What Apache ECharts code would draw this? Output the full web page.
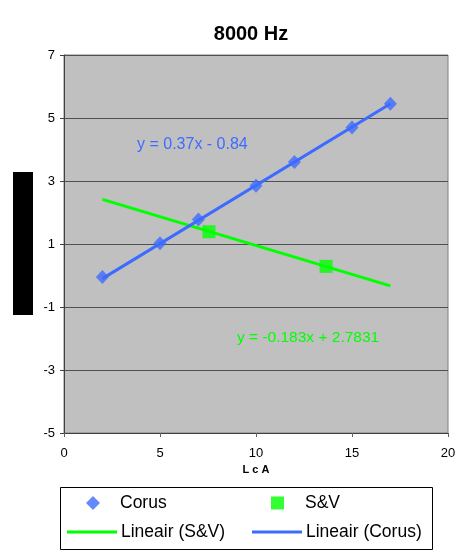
<!DOCTYPE html>
<html>
<head>
<meta charset="utf-8">
<script src="https://cdn.jsdelivr.net/npm/echarts@6/dist/echarts.min.js"></script>
<style>
  html, body { margin: 0; padding: 0; background: #fff; }
  #chart { width: 462px; height: 552px; }
</style>
</head>
<body>
<div id="chart"></div>
<script>
// Measurements at 8000 Hz
const corusX = [2, 5, 7, 10, 12, 15, 17];
const corusY = [-0.05, 1.02, 1.78, 2.85, 3.6, 4.7, 5.45];
const svX = [7.55, 13.65];
const svY = [1.39, 0.29];

// Linear trend coefficients [slope, intercept] and the x-range they span
const corusTrend = [0.37, -0.84];
const svTrend = [-0.183, 2.7831];
const trendRange = [2, 17];

const xTicks = [0, 5, 10, 15, 20];
const yTicks = [-5, -3, -1, 1, 3, 5, 7];

const BLUE = '#3D6BFF';
const GREEN = '#00FF00';
const FONT = 'Liberation Sans, Arial, sans-serif';

const zip = (xs, ys) => xs.map((x, i) => [x, ys[i]]);
const trendLine = (c) => trendRange.map(x => [x, c[0] * x + c[1]]);

const chart = echarts.init(document.getElementById('chart'), null, { renderer: 'canvas' });

const legendBase = {
  orient: 'horizontal',
  textStyle: { fontFamily: FONT, fontSize: 17.5, color: '#000' },
  selectedMode: false
};
const legendText = (pad) => Object.assign({}, legendBase.textStyle, { padding: [0, 0, 0, pad] });

chart.setOption({
  backgroundColor: '#fff',
  animation: false,
  title: {
    text: '8000 Hz',
    left: 246, top: 19, textAlign: 'center',
    textStyle: { fontFamily: FONT, fontSize: 20, fontWeight: 'bold', color: '#000' }
  },
  grid: {
    left: 64, right: 14, top: 55, bottom: 119,
    show: true, backgroundColor: '#C0C0C0', borderColor: '#808080', borderWidth: 1
  },
  xAxis: {
    type: 'value', min: 0, max: 20, interval: 5,
    name: 'L c A', nameLocation: 'middle', nameGap: 29,
    nameTextStyle: { fontFamily: FONT, fontSize: 11, fontWeight: 'bold', color: '#000' },
    axisLine: { show: true, onZero: false, lineStyle: { color: '#404040' } },
    axisTick: { show: true, inside: false, length: 4, lineStyle: { color: '#606060' } },
    axisLabel: { fontFamily: FONT, fontSize: 13, color: '#000', margin: 14 },
    splitLine: { show: false }
  },
  yAxis: {
    type: 'value', min: -5, max: 7, interval: 2,
    axisLine: { show: true, onZero: false, lineStyle: { color: '#404040' } },
    axisTick: { show: true, length: 4, lineStyle: { color: '#404040' } },
    axisLabel: { fontFamily: FONT, fontSize: 13, color: '#000', margin: 9 },
    splitLine: { show: true, lineStyle: { color: '#505050', width: 1 } }
  },
  legend: [
    Object.assign({}, legendBase, {
      data: [{ name: 'Corus', icon: 'diamond' }],
      left: 81, top: 489, itemWidth: 14, itemHeight: 14, textStyle: legendText(15)
    }),
    Object.assign({}, legendBase, {
      data: [{ name: 'S&V', icon: 'rect' }],
      left: 266, top: 489, itemWidth: 13, itemHeight: 13, textStyle: legendText(16)
    }),
    Object.assign({}, legendBase, {
      data: [{ name: 'Lineair (S&V)', icon: 'rect' }],
      left: 62, top: 518, itemWidth: 50, itemHeight: 3, textStyle: legendText(-1)
    }),
    Object.assign({}, legendBase, {
      data: [{ name: 'Lineair (Corus)', icon: 'rect' }],
      left: 247, top: 518, itemWidth: 50, itemHeight: 3, textStyle: legendText(-1)
    })
  ],
  graphic: [
    // legend frame
    { type: 'rect', shape: { x: 60.5, y: 487.5, width: 372, height: 62 },
      style: { fill: 'none', stroke: '#000', lineWidth: 1 }, silent: true },
    // axis title bar on the left
    { type: 'rect', shape: { x: 13, y: 172, width: 20, height: 143 },
      style: { fill: '#000' }, silent: true },
    { type: 'text', left: 137, top: 137,
      style: { text: 'y = 0.37x - 0.84', fill: BLUE, font: '16px ' + FONT } },
    { type: 'text', left: 237, top: 330,
      style: { text: 'y = -0.183x + 2.7831', fill: GREEN, font: '15.5px ' + FONT } }
  ],
  series: [
    {
      name: 'Lineair (S&V)', type: 'line', data: trendLine(svTrend),
      showSymbol: false, lineStyle: { color: GREEN, width: 3 }, itemStyle: { color: GREEN }, z: 2
    },
    {
      name: 'Lineair (Corus)', type: 'line', data: trendLine(corusTrend),
      showSymbol: false, lineStyle: { color: BLUE, width: 3 }, itemStyle: { color: BLUE }, z: 2
    },
    {
      name: 'Corus', type: 'scatter', data: zip(corusX, corusY),
      symbol: 'diamond', symbolSize: [13, 14], itemStyle: { color: BLUE }, z: 3
    },
    {
      name: 'S&V', type: 'scatter', data: zip(svX, svY),
      symbol: 'rect', symbolSize: 13, itemStyle: { color: GREEN }, z: 3
    }
  ]
});
</script>
</body>
</html>
